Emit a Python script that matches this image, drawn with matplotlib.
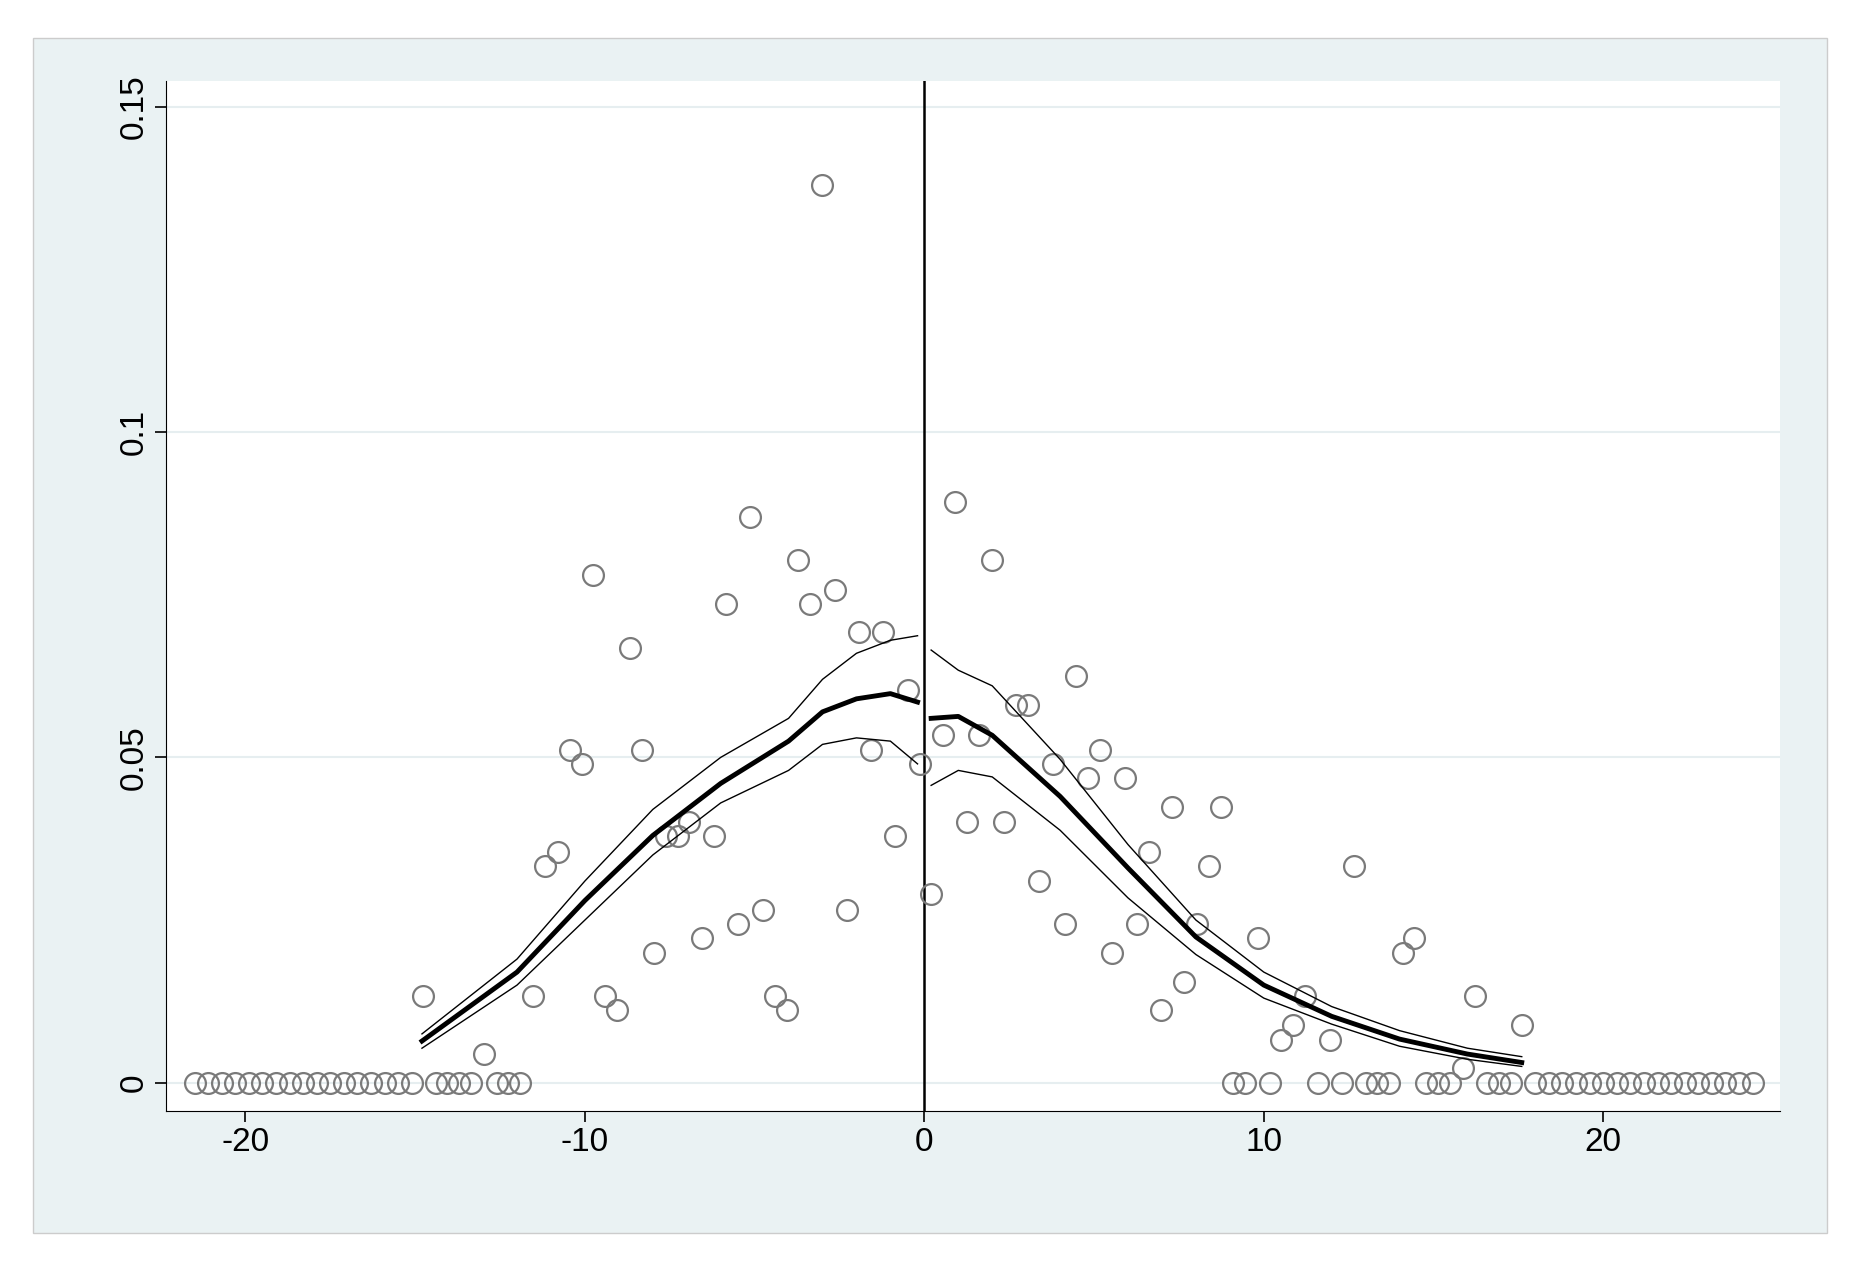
import matplotlib
matplotlib.use("Agg")
import matplotlib.pyplot as plt
from matplotlib.patches import Rectangle

plt.rcParams['font.family'] = ['Liberation Sans', 'DejaVu Sans']

pts_x = [-21.5,-21.1,-20.7,-20.3,-19.9,-19.5,-19.1,-18.7,-18.3,-17.9,-17.5,-17.1,-16.7,-16.3,-15.9,-15.5,-15.1,
         -14.76,-14.4,-14.05,-13.7,-13.35,-12.97,-12.6,-12.27,-11.9,-11.54,-11.19,-10.8,-10.45,-10.1,-9.76,-9.4,-9.06,
         -8.67,-8.32,-7.97,-7.62,-7.27,-6.92,-6.54,-6.19,-5.84,-5.49,-5.14,-4.76,-4.41,-4.06,-3.71,-3.36,-3.01,
         -2.62,-2.27,-1.92,-1.57,-1.22,-0.87,-0.49,-0.14,
         0.21,0.56,0.91,1.26,1.61,1.99,2.34,2.69,3.04,3.39,3.78,4.13,4.48,4.83,5.17,5.52,5.91,6.26,6.61,6.96,
         7.31,7.66,8.04,8.39,8.74,9.09,9.44,9.83,10.17,10.52,10.87,11.22,11.6,11.96,12.31,12.66,13.0,13.35,13.7,
         14.09,14.44,14.79,15.14,15.49,15.87,16.22,16.57,16.92,17.27,17.62,
         18.0,18.4,18.8,19.2,19.6,20.0,20.4,20.8,21.2,21.6,22.0,22.4,22.8,23.2,23.6,24.0,24.4]
pts_y = [0]*17 + [0.0133,0,0,0,0,0.0044,0,0,0,0.0133,0.0333,0.0355,0.0512,0.049,0.078,0.0133,0.0111,
         0.0668,0.0512,0.020,0.0379,0.0379,0.040,0.0222,0.0379,0.0736,0.0244,0.087,0.0266,0.0133,0.0111,0.0803,0.0736,0.138,
         0.0758,0.0266,0.0692,0.0512,0.0692,0.0379,0.0603,0.049,
         0.029,0.0534,0.0893,0.040,0.0534,0.0803,0.040,0.058,0.058,0.031,0.049,0.0244,0.0625,0.0468,0.0512,0.020,0.0468,0.0244,0.0355,0.0111,
         0.0423,0.0155,0.0244,0.0333,0.0423,0,0,0.0222,0,0.0066,0.0089,0.0133,0,0.0066,0,0.0333,0,0,0,
         0.020,0.0222,0,0,0,0.0022,0.0133,0,0,0,0.0089] + [0]*17

left_x = [-14.8,-12,-10,-8,-6,-4,-3,-2,-1,-0.2]
left_fit = [0.0064,0.017,0.028,0.038,0.046,0.0525,0.057,0.059,0.0598,0.0585]
left_hi = [0.0075,0.019,0.031,0.042,0.050,0.056,0.062,0.066,0.068,0.0687]
left_lo = [0.0053,0.015,0.025,0.035,0.043,0.048,0.052,0.053,0.0525,0.049]
right_x = [0.2,1,2,4,6,8,10,12,14,16,17.6]
right_fit = [0.056,0.0563,0.0534,0.044,0.033,0.0224,0.015,0.0102,0.0067,0.0044,0.0031]
right_hi = [0.0665,0.0634,0.061,0.0497,0.0366,0.025,0.017,0.0117,0.008,0.0053,0.004]
right_lo = [0.0457,0.048,0.047,0.0388,0.0284,0.0197,0.013,0.009,0.0056,0.0036,0.0025]

fig = plt.figure(figsize=(18.51, 12.62), dpi=100)
fig.patches.append(Rectangle((0.018, 0.0226), 0.969, 0.947, transform=fig.transFigure,
                             facecolor='#eaf2f3', edgecolor='#cccccc', lw=1, zorder=-5))
ax = fig.add_axes([0.0897, 0.1194, 0.8718, 0.8166])
ax.set_zorder(5)
ax.set_facecolor('white')
ax.set_xlim(-22.34, 25.2)
ax.set_ylim(-0.0044, 0.154)
for s in ['top', 'right']:
    ax.spines[s].set_visible(False)
ax.set_yticks([0, 0.05, 0.1, 0.15])
ax.set_yticklabels(['0', '0.05', '0.1', '0.15'], rotation=90, va='center')
ax.set_xticks([-20, -10, 0, 10, 20])
ax.set_xticklabels(['-20', '-10', '0', '10', '20'])
ax.tick_params(labelsize=24, length=8, width=1.2)
ax.grid(axis='y', color='#e6eef0', lw=1.5)
ax.set_axisbelow(True)
ax.axvline(0, color='black', lw=1.8)
ax.plot(pts_x, pts_y, 'o', ms=15, mfc='none', mec='#7a7a7a', mew=1.6)
for xs, f, hi, lo in [(left_x, left_fit, left_hi, left_lo), (right_x, right_fit, right_hi, right_lo)]:
    ax.plot(xs, f, color='black', lw=3.5)
    ax.plot(xs, hi, color='black', lw=1)
    ax.plot(xs, lo, color='black', lw=1)
fig.savefig('out.png', dpi=100)
